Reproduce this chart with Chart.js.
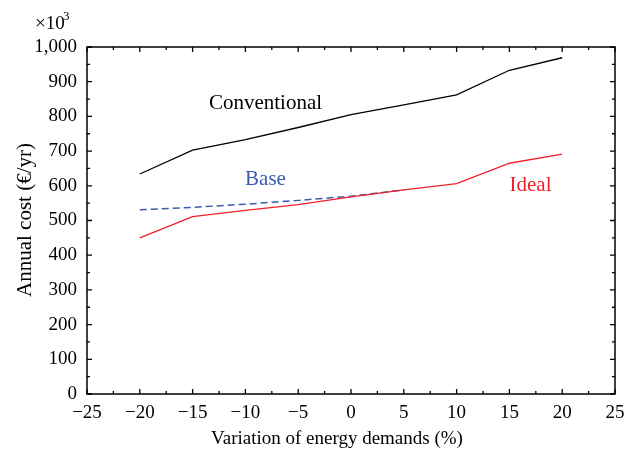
<!DOCTYPE html>
<html>
<head>
<meta charset="utf-8">
<script src="https://cdn.jsdelivr.net/npm/chart.js@4"></script>
<style>
  html, body { margin: 0; padding: 0; background: #fff; }
  #wrap { width: 636px; height: 457px; }
</style>
</head>
<body>
<div id="wrap"><canvas id="chart"></canvas></div>
<script>
const xValues = [-20, -15, -10, -5, 0, 5, 10, 15, 20]
const conventional = [634, 703, 733, 768, 805, 833, 862, 933, 969]
const ideal = [450, 511, 529, 546, 568, 588, 606, 665, 691]
const baseX = [-20, -15, -10, -5, 0, 5]
const base = [531, 538, 547, 558, 570, 588]

const FONT = '"Liberation Serif", "DejaVu Serif", serif'

const toPoints = (xs, ys) => xs.map((x, i) => ({ x, y: ys[i] }))

// Frame, inward ticks (major + minor), axis titles and text labels
const framePlugin = {
  id: 'frame',
  afterDraw(chart) {
    const { ctx, chartArea: a, scales } = chart
    const xs = scales.x
    const ys = scales.y
    ctx.save()
    ctx.strokeStyle = '#000'
    ctx.lineWidth = 1.5
    ctx.strokeRect(a.left, a.top, a.right - a.left, a.bottom - a.top)

    ctx.lineWidth = 1.3
    ctx.beginPath()
    for (let v = -25; v <= 25; v += 2.5) {
      const px = xs.getPixelForValue(v)
      const len = v % 5 === 0 ? 5 : 3
      ctx.moveTo(px, a.bottom)
      ctx.lineTo(px, a.bottom - len)
      ctx.moveTo(px, a.top)
      ctx.lineTo(px, a.top + len)
    }
    for (let v = 0; v <= 1000; v += 50) {
      const py = ys.getPixelForValue(v)
      const len = v % 100 === 0 ? 5 : 3
      ctx.moveTo(a.left, py)
      ctx.lineTo(a.left + len, py)
      ctx.moveTo(a.right, py)
      ctx.lineTo(a.right - len, py)
    }
    ctx.stroke()

    // Series labels
    const opts = chart.options.plugins.frame
    ctx.textAlign = 'center'
    ctx.textBaseline = 'middle'
    for (const l of opts.labels) {
      ctx.font = `${l.size}px ${FONT}`
      ctx.fillStyle = l.color
      ctx.fillText(l.text, xs.getPixelForValue(l.x), ys.getPixelForValue(l.y))
    }

    // Axis titles
    ctx.fillStyle = '#000'
    ctx.font = `19px ${FONT}`
    ctx.fillText(opts.xTitle, 337, 439)
    ctx.save()
    ctx.translate(25, 220)
    ctx.rotate(-Math.PI / 2)
    ctx.font = `21px ${FONT}`
    ctx.fillText(opts.yTitle, 0, 0)
    ctx.restore()

    // Exponent marker
    ctx.textAlign = 'left'
    ctx.textBaseline = 'alphabetic'
    ctx.font = `19px ${FONT}`
    ctx.fillText('×10', 35, 29)
    ctx.font = `13px ${FONT}`
    ctx.fillText('3', 63, 20)
    ctx.restore()
  },
}

new Chart(document.getElementById('chart'), {
  type: 'line',
  data: {
    datasets: [
      {
        label: 'Conventional',
        data: toPoints(xValues, conventional),
        borderColor: '#000',
        borderWidth: 1.3,
        pointRadius: 0,
        tension: 0,
      },
      {
        label: 'Ideal',
        data: toPoints(xValues, ideal),
        borderColor: '#f0202a',
        borderWidth: 1.3,
        pointRadius: 0,
        tension: 0,
      },
      {
        label: 'Base',
        data: toPoints(baseX, base),
        borderColor: '#3a5bb0',
        borderWidth: 1.5,
        borderDash: [7, 4],
        pointRadius: 0,
        tension: 0,
      },
    ],
  },
  options: {
    responsive: true,
    maintainAspectRatio: false,
    animation: false,
    layout: { padding: { top: 47, right: 21, left: 0, bottom: 0 } },
    plugins: {
      legend: { display: false },
      tooltip: { enabled: false },
      frame: {
        xTitle: 'Variation of energy demands (%)',
        yTitle: 'Annual cost (€/yr)',
        labels: [
          { text: 'Conventional', x: -8.1, y: 838, color: '#000', size: 21 },
          { text: 'Base', x: -8.1, y: 617, color: '#3a5bb0', size: 21 },
          { text: 'Ideal', x: 17.0, y: 602, color: '#f0202a', size: 21 },
        ],
      },
    },
    scales: {
      x: {
        type: 'linear',
        min: -25,
        max: 25,
        grid: { display: false, drawTicks: false },
        border: { display: false },
        ticks: {
          stepSize: 5,
          padding: 8,
          color: '#000',
          font: { family: FONT, size: 19 },
          maxRotation: 0,
          callback: (v) => String(v).replace('-', '−'),
        },
        afterFit(scale) { scale.height = 63 },
      },
      y: {
        min: 0,
        max: 1000,
        grid: { display: false, drawTicks: false },
        border: { display: false },
        ticks: {
          stepSize: 100,
          padding: 10,
          color: '#000',
          font: { family: FONT, size: 19 },
          callback: (v) => v.toLocaleString('en-US'),
        },
        afterFit(scale) { scale.width = 87 },
      },
    },
  },
  plugins: [framePlugin],
})
</script>
</body>
</html>
